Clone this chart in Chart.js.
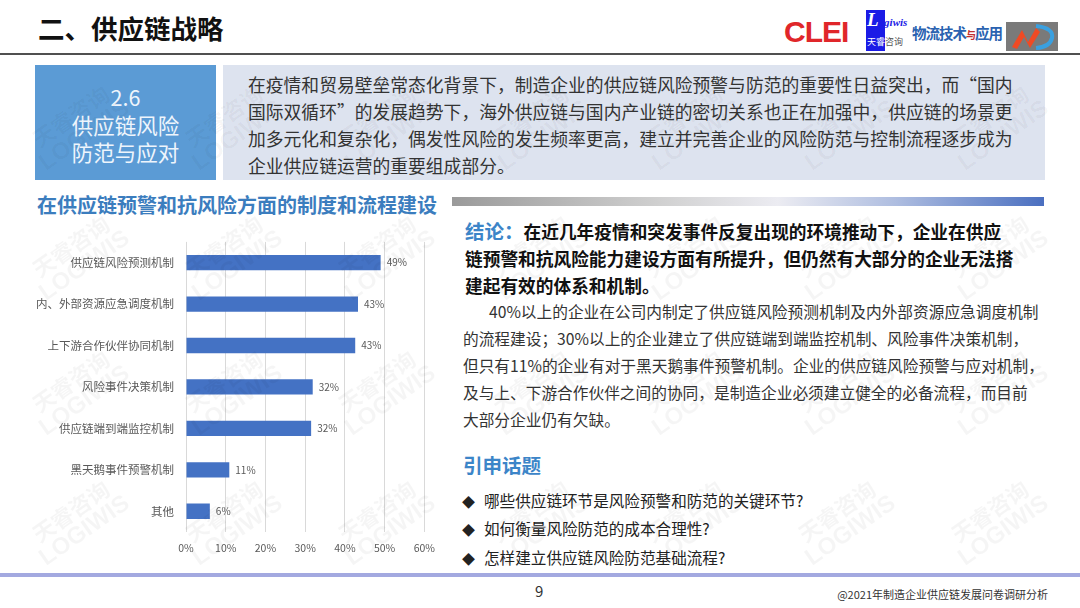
<!DOCTYPE html>
<html lang="zh">
<head>
  <meta charset="UTF-8" />
  <title>供应链战略 2.6</title>
  <script src="https://cdn.jsdelivr.net/npm/chart.js"></script>
  <style>
    html, body {
      margin: 0;
      padding: 0;
      background: #fff;
    }
    body {
      width: 1080px;
      height: 608px;
      position: relative;
      overflow: hidden;
      font-family: "Noto Sans CJK SC", "Noto Sans", sans-serif;
      color: #333;
    }
    .abs { position: absolute; white-space: nowrap; }
    #pageTitle { left: 38px; top: 10px; font-size: 26.5px; font-weight: bold; color: #111; line-height: 36px; }
    #headLine { left: 0; top: 53px; width: 1080px; height: 2px; background: #505050; }
    #secBox {
      left: 35px; top: 65px; width: 181px; height: 115px; background: #5b9bd5;
      color: #eef5fc; font-size: 21.5px; line-height: 27.5px; text-align: center;
      padding-top: 18px; box-sizing: border-box;
    }
    #introBox { left: 223px; top: 65px; width: 822px; height: 115px; background: #dde3ef; }
    #introText { left: 248px; top: 71px; font-size: 17.8px; line-height: 27px; color: #333; }
    #chartTitle { left: 37px; top: 191px; font-size: 20px; font-weight: bold; color: #3b7dbe; line-height: 28px; }
    #sepBar {
      left: 452px; top: 197px; width: 592px; height: 9px;
      background: linear-gradient(to right, #9a9a9a 0%, #d0d0d0 35%, #ececf2 55%, #aebde0 75%, #4a6fc0 100%);
    }
    #chartBox { left: 0; top: 223px; width: 445px; height: 339px; }
    #concl { left: 465px; top: 217px; font-size: 17.7px; line-height: 27px; font-weight: bold; color: #111; }
    #concl .lead { color: #3c85c8; font-size: 19.5px; }
    #body { left: 463px; top: 298px; font-size: 15.7px; line-height: 27px; color: #333; }
    #body .first { padding-left: 26px; }
    #topicHead { left: 463px; top: 451px; font-size: 19.5px; font-weight: bold; color: #3c85c8; line-height: 28px; }
    .topic { left: 462px; font-size: 15.6px; line-height: 22px; color: #222; }
    .topic .dia { display: inline-block; width: 22px; font-size: 13px; }
    #footLine { left: 0; top: 573px; width: 1080px; height: 4px; background: #a3a9e0; }
    #pageNo { left: 535px; top: 581px; font-size: 15px; color: #333; line-height: 20px; }
    #footNote { right: 32px; top: 586px; font-size: 11px; color: #333; line-height: 16px; }
    .wm {
      position: absolute; width: 120px; text-align: center; line-height: 24px;
      color: rgba(0, 0, 0, 0.04); font-weight: bold; transform: rotate(-35deg);
      pointer-events: none;
    }
    .wm .a { font-size: 22px; }
    .wm .b { font-family: "Liberation Sans", sans-serif; font-size: 24px; }
    /* logos */
    #clei { left: 784px; top: 13px; font-family: "Liberation Sans", Arial, sans-serif; font-weight: bold; font-size: 30px; color: #e0262a; letter-spacing: -1px; line-height: 38px; }
    #logiwis { left: 866px; top: 10px; width: 42px; height: 41px; }
    #logiwis .blue { position: absolute; left: 0; top: 0; width: 19px; height: 41px; background: #1b1be6; }
    #logiwis .name { position: absolute; left: 1px; top: -1px; font-family: "Liberation Serif", serif; font-style: italic; font-weight: bold; font-size: 11px; color: #1b1be6; }
    #logiwis .name b { font-size: 19px; color: #fff; }
    #logiwis .cn { position: absolute; left: 1px; top: 26px; font-size: 9px; color: #fff; line-height: 12px; }
    #logiwis .cn span { color: #555; }
    #wuliu { left: 912px; top: 23px; font-size: 14.5px; font-weight: bold; color: #2a62b0; line-height: 20px; letter-spacing: -1px; }
    #wuliu small { font-size: 10px; color: #c03030; }
    #mdLogo { left: 1006px; top: 22px; width: 52px; height: 29px; }
  </style>
</head>
<body>
  <div class="abs" id="pageTitle">二、供应链战略</div>

  <div class="abs" id="clei">CLEI</div>
  <div class="abs" id="logiwis">
    <div class="blue"></div>
    <div class="name"><b>L</b>ogiwis</div>
    <div class="cn">天睿<span>咨询</span></div>
  </div>
  <div class="abs" id="wuliu">物流技术<small>与</small>应用</div>
  <svg class="abs" id="mdLogo" viewBox="0 0 52 29">
    <rect x="0" y="0" width="52" height="29" fill="#7a7a7a"/>
    <path d="M30 4 Q48 6 46 16 Q44 25 30 26" fill="none" stroke="#3aa0e0" stroke-width="4"/>
    <path d="M6 25 L16 8 L22 20 L30 6 L34 10 L24 26 L18 15 L11 27 Z" fill="#f04a24"/>
  </svg>

  <div class="abs" id="headLine"></div>

  <div class="abs" id="secBox">2.6<br>供应链风险<br>防范与应对</div>
  <div class="abs" id="introBox"></div>
  <div class="abs" id="introText">在疫情和贸易壁垒常态化背景下，制造企业的供应链风险预警与防范的重要性日益突出，而“国内<br>国际双循环”的发展趋势下，海外供应链与国内产业链的密切关系也正在加强中，供应链的场景更<br>加多元化和复杂化，偶发性风险的发生频率更高，建立并完善企业的风险防范与控制流程逐步成为<br>企业供应链运营的重要组成部分。</div>

  <div class="abs" id="chartTitle">在供应链预警和抗风险方面的制度和流程建设</div>
  <div class="abs" id="sepBar"></div>

  <div class="abs" id="chartBox"><canvas id="riskChart"></canvas></div>

  <div class="abs" id="concl"><span class="lead">结论：</span>在近几年疫情和突发事件反复出现的环境推动下，企业在供应<br>链预警和抗风险能力建设方面有所提升，但仍然有大部分的企业无法搭<br>建起有效的体系和机制。</div>
  <div class="abs" id="body"><span class="first">40%以上的企业在公司内制定了供应链风险预测机制及内外部资源应急调度机制</span><br>的流程建设；30%以上的企业建立了供应链端到端监控机制、风险事件决策机制，<br>但只有11%的企业有对于黑天鹅事件预警机制。企业的供应链风险预警与应对机制，<br>及与上、下游合作伙伴之间的协同，是制造企业必须建立健全的必备流程，而目前<br>大部分企业仍有欠缺。</div>

  <div class="abs" id="topicHead">引申话题</div>
  <div class="abs topic" style="top:489px"><span class="dia">◆</span>哪些供应链环节是风险预警和防范的关键环节?</div>
  <div class="abs topic" style="top:517px"><span class="dia">◆</span>如何衡量风险防范的成本合理性?</div>
  <div class="abs topic" style="top:546px"><span class="dia">◆</span>怎样建立供应链风险防范基础流程?</div>

  <div class="abs" id="footLine"></div>
  <div class="abs" id="pageNo">9</div>
  <div class="abs" id="footNote">@2021年制造企业供应链发展问卷调研分析</div>

  <script>
    // values (share of companies, %)
    const categories = [
      "供应链风险预测机制", "内、外部资源应急调度机制", "上下游合作伙伴协同机制",
      "风险事件决策机制", "供应链端到端监控机制", "黑天鹅事件预警机制", "其他"
    ];
    const shares = [49, 43.3, 42.6, 31.9, 31.5, 10.9, 6];
    const shareLabels = ["49%", "43%", "43%", "32%", "32%", "11%", "6%"];
    const tickLabels = ["0%", "10%", "20%", "30%", "40%", "50%", "60%"];

    const labelFont = "'Noto Sans CJK SC', 'Noto Sans', sans-serif";

    // faint "天睿咨询 LOGIWIS" watermark tiles behind the slide content
    [125, 255, 390, 520].forEach(cy => {
      [77, 230, 383, 536, 690, 843, 996].forEach(cx => {
        const d = document.createElement("div");
        d.className = "wm";
        d.style.left = (cx - 60) + "px";
        d.style.top = (cy - 24) + "px";
        d.innerHTML = '<div class="a">天睿咨询</div><div class="b">LOGIWIS</div>';
        document.body.appendChild(d);
      });
    });

    // draws the % labels to the right of each bar
    const barLabels = {
      id: "barLabels",
      afterDatasetsDraw(chart) {
        const ctx = chart.ctx;
        const meta = chart.getDatasetMeta(0);
        ctx.save();
        ctx.font = "10px " + labelFont;
        ctx.fillStyle = "#595959";
        ctx.textBaseline = "middle";
        meta.data.forEach((bar, i) => {
          ctx.fillText(shareLabels[i], bar.x + 6, bar.y);
        });
        ctx.restore();
      }
    };

    new Chart(document.getElementById("riskChart"), {
      type: "bar",
      data: {
        labels: categories,
        datasets: [{
          data: shares,
          backgroundColor: "#4472c4",
          borderWidth: 0,
          categoryPercentage: 1,
          barPercentage: 0.37
        }]
      },
      options: {
        indexAxis: "y",
        responsive: true,
        maintainAspectRatio: false,
        animation: false,
        layout: { padding: { top: 1, right: 20, left: 0, bottom: 0 } },
        plugins: {
          legend: { display: false },
          tooltip: { enabled: false }
        },
        scales: {
          x: {
            min: 0,
            max: 60,
            ticks: {
              stepSize: 10,
              padding: 10,
              color: "#595959",
              font: { family: labelFont, size: 10.5 },
              callback: (v, i) => tickLabels[i]
            },
            grid: { color: "#d9d9d9", drawTicks: false },
            border: { display: false },
            afterFit(scale) { scale.height = 30; }
          },
          y: {
            ticks: {
              padding: 12,
              color: "#595959",
              font: { family: labelFont, size: 11.5 }
            },
            grid: { display: false, drawTicks: false },
            border: { display: false },
            afterFit(scale) { scale.width = 186; }
          }
        }
      },
      plugins: [barLabels]
    });
  </script>
</body>
</html>
